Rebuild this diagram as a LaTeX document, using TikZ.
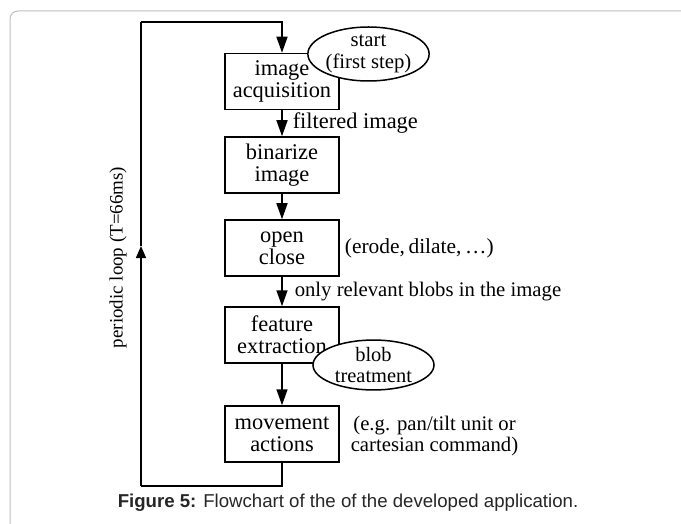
\documentclass[tikz,border=0pt]{standalone}
\usepackage{fontspec}
\setmainfont{Liberation Serif}
\setsansfont{Liberation Sans}
\usetikzlibrary{arrows.meta,shapes.geometric}
\begin{document}
\begin{tikzpicture}[x=1bp,y=-1bp,
  stepbox/.style={draw,line width=1.5bp,minimum width=114bp,minimum height=56bp,align=center,inner sep=0pt,font=\fontsize{22.5}{22}\selectfont},
  note/.style={ellipse,draw,fill=white,line width=1.5bp,inner sep=0pt,align=center},
  lbl/.style={anchor=west,inner sep=0pt,xshift=12bp,font=\fontsize{20.8}{22}\selectfont},
  flow/.style={line width=1.5bp,-{Triangle[length=16bp,width=11bp]}},
  line/.style={line width=1.5bp}]
\useasboundingbox (0,0) rectangle (681,524);
\begin{scope}
\clip (0,0) rectangle (681,524);
\draw[gray!50,line width=1bp,rounded corners=8bp] (10,11) rectangle (700,560);
\end{scope}

\node[stepbox] (acq) at (282,81.5) {image\\acquisition};
\node[stepbox] (bin) at (282,165) {binarize\\image};
\node[stepbox] (open) at (282,248) {open\\close};
\node[stepbox] (feat) at (282,335) {feature\\extraction};
\node[stepbox] (move) at (282,434) {movement\\actions};
\node[note,minimum width=121bp,minimum height=54bp,font=\fontsize{20.8}{22}\selectfont] (start) at (368.5,54) {start\\(first step)};
\node[note,minimum width=121bp,minimum height=47bp,font=\fontsize{20.5}{21}\selectfont] (blob) at (373.5,365) {blob\\treatment};

\node[lbl,xshift=-7bp,font=\fontsize{21.5}{22}\selectfont] (morph) at (open.east) {(erode,\,dilate,\,\ldots)};
\node[align=center,inner sep=0pt,font=\fontsize{20.8}{22}\selectfont] (cmd) at (434.5,436) {(e.g. pan/tilt unit or\\cartesian command)};
\node[rotate=90,inner sep=0pt,font=\fontsize{19}{22}\selectfont] (period) at (118,257.5) {periodic loop (T=66ms)};

\path[draw,flow] (acq) -- node[lbl,xshift=-2bp,font=\fontsize{22.5}{22}\selectfont] (filt) {filtered image} (bin);
\path[draw,flow] (bin) -- (open);
\path[draw,flow] (open) -- node[lbl] (rel) {only relevant blobs in the image} (feat);
\path[draw,flow] (feat) -- (move);

% periodic loop back to the first step
\coordinate (lb) at (141,486);
\coordinate (lm) at (141,246);
\coordinate (lt) at (141,22);
\path[draw,line] (move.south) |- (lb);
\path[draw,line,-{Triangle[length=12bp,width=10bp]}] (lb) -- (lm);
\path[draw,line] (lm) -- (lt);
\path[draw,flow] (lt) -| (acq.north);

\node[font=\sffamily\fontsize{18.7}{20}\selectfont,text=black!85,inner sep=0pt] (cap) at (348,503) {\textbf{Figure 5:} Flowchart of the of the developed application.};
\end{tikzpicture}
\end{document}
